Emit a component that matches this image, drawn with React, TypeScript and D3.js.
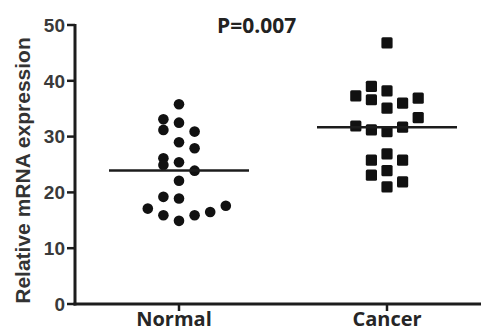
import React from 'react';
import * as d3 from 'd3';

const categories = ['Normal', 'Cancer'];

// one entry per dot
const normalValues = [35.8, 33.1, 31.2, 32.5, 30.9, 29.0, 27.9, 26.1, 24.9, 25.4, 23.9, 22.1, 19.2, 18.9, 17.1, 15.9, 14.9, 15.9, 16.5, 17.6];
const normalSlots = [0, -1, -1, 0, 1, 0, 1, -1, -1, 0, 1, 0, -1, 0, -2, -1, 0, 1, 2, 3];

const cancerValues = [46.8, 37.3, 39.0, 36.6, 38.2, 35.1, 36.0, 36.9, 33.4, 31.9, 31.2, 30.9, 31.7, 26.9, 25.8, 25.8, 23.1, 23.9, 21.9, 21.0];
const cancerSlots = [0, -2, -1, -1, 0, 0, 1, 2, 2, -2, -1, 0, 1, 0, -1, 1, -1, 0, 1, 0];

const yTicks = [0, 10, 20, 30, 40, 50];
const yLabel = 'Relative mRNA expression';
const pLabel = 'P=0.007';

const W = 481;
const H = 332;

export default function App() {
  const y = d3.scaleLinear().domain([0, 50]).range([304, 25]);
  const x = d3.scalePoint<string>().domain(categories).range([179, 387]);
  const slot = d3.scaleLinear().domain([0, 1]).range([0, 15.6]);

  const groups = [
    { name: 'Normal', values: normalValues, slots: normalSlots, shape: 'circle' },
    { name: 'Cancer', values: cancerValues, slots: cancerSlots, shape: 'square' },
  ];

  const axisColor = '#1c1c1c';
  const dotColor = '#111';

  return (
    <svg width={W} height={H} style={{ position: 'absolute', left: 0, top: 0, background: '#fff' }}>
      {/* y axis */}
      <line x1={75} x2={75} y1={y(50) - 1} y2={y(0) + 1.5} stroke={axisColor} strokeWidth={3} />
      {yTicks.map(t => (
        <g key={t} transform={`translate(0,${y(t)})`}>
          <line x1={67} x2={75} stroke={axisColor} strokeWidth={2.5} />
          <text x={65} dy="0.36em" textAnchor="end" fontFamily="'Liberation Sans', Arial, sans-serif"
            fontWeight="bold" fontSize={19} fill="#3a3a3a">{t}</text>
        </g>
      ))}
      <text transform={`translate(30,${(y(0) + y(50)) / 2 + 6}) rotate(-90)`} textAnchor="middle"
        fontFamily="'Liberation Sans', Arial, sans-serif" fontWeight="bold" fontSize={21} fill="#333">
        {yLabel}
      </text>

      {/* x axis */}
      <line x1={73.5} x2={W} y1={y(0)} y2={y(0)} stroke={axisColor} strokeWidth={3} />
      {categories.map(c => (
        <g key={c}>
          <line x1={x(c)} x2={x(c)} y1={y(0)} y2={y(0) + 7} stroke={axisColor} strokeWidth={2.5} />
          <text x={x(c)! - (c === 'Normal' ? 5 : 0)} y={326} textAnchor="middle" fontFamily="'Open Sans', sans-serif"
            fontWeight="bold" fontSize={20} fill="#262626">{c}</text>
        </g>
      ))}

      {/* dots */}
      {groups.map(g => {
        const cx0 = x(g.name)!;
        return (
          <g key={g.name}>
            {g.values.map((v, i) =>
              g.shape === 'circle' ? (
                <circle key={i} cx={cx0 + slot(g.slots[i])} cy={y(v)} r={5.3} fill={dotColor} />
              ) : (
                <rect key={i} x={cx0 + slot(g.slots[i]) - 5.6} y={y(v) - 5.6} width={11.2} height={11.2}
                  rx={1.5} fill={dotColor} />
              )
            )}
            <line x1={cx0 - 70} x2={cx0 + 70} y1={y(d3.mean(g.values)!)} y2={y(d3.mean(g.values)!)}
              stroke={axisColor} strokeWidth={2.5} />
          </g>
        );
      })}

      <text x={217} y={33} fontFamily="'Open Sans', sans-serif" fontWeight="bold" fontSize={21} fill="#222">
        {pLabel}
      </text>
    </svg>
  );
}
